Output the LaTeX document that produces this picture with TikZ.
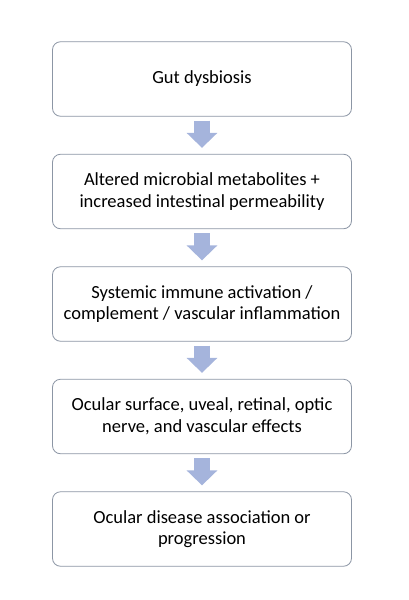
\documentclass[tikz,border=0pt]{standalone}
\usepackage{fontspec}
\setmainfont{Carlito}
\usetikzlibrary{arrows.meta}
\definecolor{boxline}{RGB}{140,150,165}
\definecolor{flowblue}{RGB}{165,180,220}
\tikzset{stage/.style={draw=boxline,line width=.8pt,rounded corners=8pt,fill=white,
    minimum width=299pt,minimum height=74.5pt,align=center,font=\fontsize{18.5}{21.5}\selectfont},
  flow/.style={-{Triangle[width=30pt,length=15pt]},line width=16pt,draw=flowblue,
    shorten <=4pt,shorten >=6pt}}

\begin{document}
\begin{tikzpicture}[x=1pt,y=-1pt]
  \path[use as bounding box] (0,0) rectangle (409,600);
  \foreach \i/\t in {1/{Gut dysbiosis},
      2/{Altered microbial metabolites +\\increased intestinal permeability},
      3/{Systemic immune activation /\\complement / vascular inflammation},
      4/{Ocular surface, uveal, retinal, optic\\nerve, and vascular effects},
      5/{Ocular disease association or\\progression}}{
    \node[stage] (s\i) at (202,{79+112.5*(\i-1)}) {\t};
  }
  \foreach \i/\j in {1/2,2/3,3/4,4/5}{
    \draw[flow] (s\i) -- (s\j);
  }
\end{tikzpicture}
\end{document}
